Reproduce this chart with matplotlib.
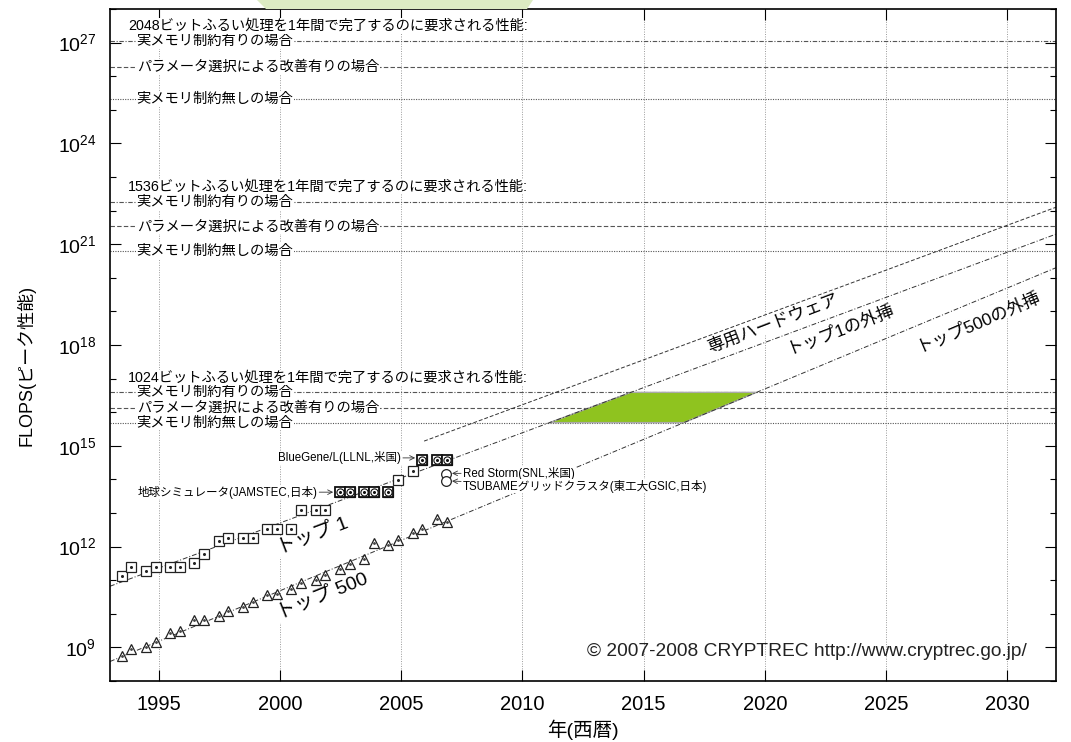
import matplotlib
matplotlib.use("Agg")
import matplotlib.pyplot as plt
from matplotlib.patches import Polygon
import numpy as np

plt.rcParams['font.family'] = ['Liberation Sans', 'Noto Sans CJK JP', 'DejaVu Sans']
plt.rcParams['mathtext.default'] = 'regular'

# =========================
# DATA
# =========================
# TOP500 list dates (June / November of each year)
list_years = [1993.48, 1993.88, 1994.48, 1994.88, 1995.48, 1995.88, 1996.48, 1996.88,
              1997.48, 1997.88, 1998.48, 1998.88, 1999.48, 1999.88, 2000.48, 2000.88,
              2001.48, 2001.88, 2002.48, 2002.88, 2003.48, 2003.88, 2004.48, 2004.88,
              2005.48, 2005.85, 2006.48, 2006.88]
# log10 of peak FLOPS
top1_log = [11.13, 11.38, 11.26, 11.38, 11.38, 11.38, 11.51, 11.79,
            12.18, 12.26, 12.26, 12.26, 12.51, 12.51, 12.51, 13.10,
            13.10, 13.10, 13.62, 13.62, 13.62, 13.62, 13.62, 13.98,
            14.25, 14.58, 14.58, 14.58]
top500_log = [8.75, 8.96, 9.01, 9.16, 9.42, 9.50, 9.82, 9.82,
              9.92, 10.07, 10.20, 10.35, 10.57, 10.60, 10.75, 10.92,
              11.01, 11.16, 11.34, 11.47, 11.63, 12.11, 12.05, 12.19,
              12.39, 12.51, 12.81, 12.73]
earth_sim_idx = [18, 19, 20, 21, 22]
bluegene_idx = [25, 26, 27]

other_years = [2006.84, 2006.84]
other_log = [14.15, 13.95]   # Red Storm, TSUBAME

# trend / extrapolation lines (year, log10 FLOPS)
top1_trend_years = [1993.0, 2032.0]
top1_trend_log = [10.82, 21.30]
top500_trend_years = [1993.0, 2032.0]
top500_trend_log = [8.58, 20.30]
hw_trend_years = [2005.95, 2032.0]
hw_trend_log = [15.14, 22.10]

# required performance (log10 FLOPS): [with memory limit, parameter selection, no memory limit]
req_bits = ["2048", "1536", "1024"]
req_levels = [[27.05, 26.27, 25.32],
              [22.26, 21.53, 20.80],
              [16.59, 16.12, 15.69]]
req_labels = ["実メモリ制約有りの場合", "パラメータ選択による改善有りの場合", "実メモリ制約無しの場合"]
req_styles = [(0, (4, 1.5, 1, 1.5)), (0, (4, 2)), (0, (1, 1.2))]

x_ticks = [1995, 2000, 2005, 2010, 2015, 2020, 2025, 2030]
y_major = [9, 12, 15, 18, 21, 24, 27]

# =========================
# FIGURE
# =========================
fig = plt.figure(figsize=(10.71, 7.42), dpi=100)
ax = fig.add_axes([110 / 1071, 61 / 742, 946 / 1071, 672 / 742])

# light green decoration cut by the top edge
fig.patches.append(Polygon([[257 / 1071, 1.0], [533 / 1071, 1.0], [527 / 1071, 733 / 742],
                            [266 / 1071, 733 / 742]], closed=True, transform=fig.transFigure,
                           facecolor="#dcebc3", edgecolor="none", zorder=0))

ax.set_yscale("log")
ax.set_xlim(1993, 2032)
ax.set_ylim(1e8, 1e28)

# vertical grid
for xv in x_ticks:
    ax.axvline(xv, color="#9a9a9a", lw=0.7, ls=(0, (1, 1.5)), zorder=1)

# required-performance lines
for bits, levels in zip(req_bits, req_levels):
    for lev, lab, st in zip(levels, req_labels, req_styles):
        ax.axhline(10 ** lev, color="#555555", lw=0.8, ls=st, zorder=1)
        ax.text(1994.1, 10 ** lev, lab, fontsize=10.3, va="center", ha="left", zorder=3,
                bbox=dict(facecolor="white", edgecolor="none", pad=0.5))
    ax.text(1993.75, 10 ** (levels[0] + 0.45), bits + "ビットふるい処理を1年間で完了するのに要求される性能:",
            fontsize=10.3, va="center", ha="left", zorder=3,
            bbox=dict(facecolor="white", edgecolor="none", pad=0.5))

# green region: between TOP1 and TOP500 extrapolation, 1024-bit requirement band
t1_slope = (top1_trend_log[1] - top1_trend_log[0]) / (top1_trend_years[1] - top1_trend_years[0])
t5_slope = (top500_trend_log[1] - top500_trend_log[0]) / (top500_trend_years[1] - top500_trend_years[0])
lo, hi = req_levels[2][2], req_levels[2][0]
poly_x = [top1_trend_years[0] + (lo - top1_trend_log[0]) / t1_slope,
          top1_trend_years[0] + (hi - top1_trend_log[0]) / t1_slope,
          top500_trend_years[0] + (hi - top500_trend_log[0]) / t5_slope,
          top500_trend_years[0] + (lo - top500_trend_log[0]) / t5_slope]
poly_y = [10 ** lo, 10 ** hi, 10 ** hi, 10 ** lo]
ax.fill(poly_x, poly_y, facecolor="#8fc31f", edgecolor="#aaaaaa", lw=1.0, zorder=2)

# trend lines
ax.plot(top1_trend_years, 10 ** np.array(top1_trend_log), color="#333333", lw=0.7,
        ls=(0, (5, 2, 1, 2)), zorder=2)
ax.plot(top500_trend_years, 10 ** np.array(top500_trend_log), color="#333333", lw=0.7,
        ls=(0, (5, 2, 1, 2)), zorder=2)
ax.plot(hw_trend_years, 10 ** np.array(hw_trend_log), color="#333333", lw=0.7,
        ls=(0, (4, 2)), zorder=2)

# data points
ly = np.array(list_years)
t1 = 10 ** np.array(top1_log)
t5 = 10 ** np.array(top500_log)
ax.plot(ly, t1, ls="none", marker="s", ms=7.5, mfc="white", mec="#222222", mew=0.9, zorder=4)
ax.plot(ly, t1, ls="none", marker="o", ms=1.2, mfc="#222222", mec="#222222", zorder=5)
sp = earth_sim_idx + bluegene_idx
ax.plot(ly[sp], t1[sp], ls="none", marker="s", ms=7.5, mfc="white", mec="#111111", mew=1.3, zorder=5)
ax.plot(ly[sp], t1[sp], ls="none", marker="o", ms=5.2, mfc="white", mec="#111111", mew=0.8, zorder=6)
ax.plot(ly[sp], t1[sp], ls="none", marker="o", ms=1.2, mfc="#111111", mec="#111111", zorder=7)
ax.plot(ly, t5, ls="none", marker="^", ms=7.5, mfc="white", mec="#222222", mew=0.9, zorder=4)
ax.plot(ly, t5, ls="none", marker="o", ms=1.0, mfc="#444444", mec="#444444", zorder=5)
ax.plot(other_years, 10 ** np.array(other_log), ls="none", marker="o", ms=7, mfc="white",
        mec="#222222", mew=0.9, zorder=4)

# series labels
ax.text(2001.35, 10 ** 12.33, "トップ 1", fontsize=14, rotation=21, ha="center", va="center",
        zorder=3, bbox=dict(facecolor="white", edgecolor="none", pad=0.5))
ax.text(2001.75, 10 ** 10.52, "トップ 500", fontsize=14, rotation=22, ha="center", va="center",
        zorder=3, bbox=dict(facecolor="white", edgecolor="none", pad=0.5))
ax.text(2020.3, 10 ** 18.65, "専用ハードウェア", fontsize=12.5, rotation=21, ha="center", va="center",
        zorder=3, bbox=dict(facecolor="white", edgecolor="none", pad=0.5))
ax.text(2023.1, 10 ** 18.5, "トップ1の外挿", fontsize=12.5, rotation=21, ha="center", va="center",
        zorder=3, bbox=dict(facecolor="white", edgecolor="none", pad=0.5))
ax.text(2028.8, 10 ** 18.72, "トップ500の外挿", fontsize=12.5, rotation=23, ha="center", va="center",
        zorder=3, bbox=dict(facecolor="white", edgecolor="none", pad=0.5))

# annotations
arw = dict(arrowstyle="->", color="#333333", lw=0.6, shrinkA=1, shrinkB=0)
ann_bbox = dict(facecolor="white", edgecolor="none", pad=0.3)
ax.annotate("BlueGene/L(LLNL,米国)", xy=(2005.58, 10 ** 14.64), xytext=(2005.0, 10 ** 14.64),
            fontsize=8.3, ha="right", va="center", arrowprops=arw, bbox=ann_bbox, zorder=6)
ax.annotate("地球シミュレータ(JAMSTEC,日本)", xy=(2002.2, 10 ** 13.62), xytext=(2001.55, 10 ** 13.62),
            fontsize=8.3, ha="right", va="center", arrowprops=arw, bbox=ann_bbox, zorder=6)
ax.annotate("Red Storm(SNL,米国)", xy=(2007.1, 10 ** 14.18), xytext=(2007.55, 10 ** 14.18),
            fontsize=8.3, ha="left", va="center", arrowprops=arw, bbox=ann_bbox, zorder=6)
ax.annotate("TSUBAMEグリッドクラスタ(東工大GSIC,日本)", xy=(2007.1, 10 ** 13.95),
            xytext=(2007.55, 10 ** 13.8), fontsize=8.3, ha="left", va="center",
            arrowprops=arw, bbox=ann_bbox, zorder=6)

ax.text(2030.8, 10 ** 8.87, "© 2007-2008 CRYPTREC http://www.cryptrec.go.jp/", fontsize=13.8,
        ha="right", va="center", color="#222222", zorder=3)

# axes styling
ax.set_xticks(x_ticks)
ax.set_xticklabels([str(v) for v in x_ticks], fontsize=14.5)
ax.set_yticks([10.0 ** v for v in y_major])
ax.set_yticklabels([r"$10^{%d}$" % v for v in y_major], fontsize=14)
ax.set_yticks([10.0 ** v for v in range(8, 29)], minor=True)
ax.yaxis.set_minor_formatter(matplotlib.ticker.NullFormatter())
ax.set_xticks([], minor=True)
ax.tick_params(which="major", direction="in", length=8, width=0.8, top=True, right=True, pad=10)
ax.tick_params(which="minor", direction="in", length=4, width=0.8, top=True, right=True)
for s in ax.spines.values():
    s.set_linewidth(1.2)

ax.set_xlabel("年(西暦)", fontsize=14, labelpad=4)
ax.set_ylabel("FLOPS(ピーク性能)", fontsize=13)
ax.yaxis.set_label_coords(-0.079, 0.47)

fig.savefig("out.png", dpi=100)
